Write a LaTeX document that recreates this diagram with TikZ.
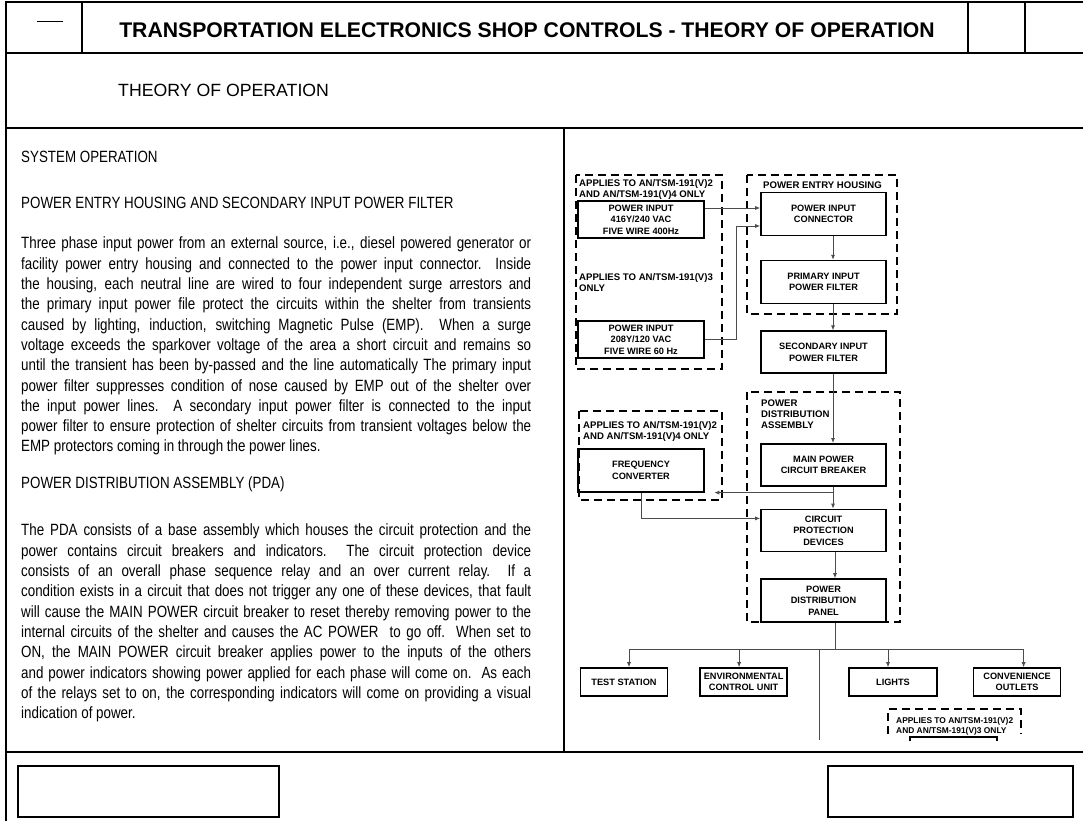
\documentclass[tikz,border=0pt]{standalone}
\usepackage{fontspec}
\setmainfont{Liberation Sans}
\newfontfamily\narrowfont[FakeStretch=0.82]{Liberation Sans}
\usetikzlibrary{arrows.meta,positioning}

\begin{document}
\begin{tikzpicture}[
    x=1pt, y=-1pt,
    >={Latex[length=5pt,width=4pt]},
    every node/.style={font=\fontsize{9.2}{11.5}\selectfont\bfseries},
    box/.style={
        draw,
        line width=1.6pt,
        align=center,
        inner sep=0pt,
        minimum width=125pt,
        minimum height=43pt
    },
    outbox/.style={box, minimum width=87pt, minimum height=28pt},
    group/.style={draw, line width=2.2pt, dash pattern=on 8pt off 5pt},
    grouplabel/.style={anchor=north west, align=left, inner sep=0pt,
        font=\fontsize{9.6}{11}\selectfont\bfseries},
    wire/.style={draw=black!70, line width=0.8pt},
    frame/.style={line width=1.5pt},
    heading/.style={anchor=base west, inner sep=0pt,
        font=\narrowfont\fontsize{16.3}{20.3}\selectfont},
    body/.style={anchor=north west, inner sep=0pt, text width=510pt,
        align=justify, font=\narrowfont\fontsize{16.3}{20.3}\selectfont}
]
  \useasboundingbox (0,0) rectangle (1083,821);

  % page frame
  \draw[frame] (6,821) -- (6,2) -- (1083,2);
  \draw[frame] (6,53) -- (1083,53);
  \draw[frame] (6,128) -- (1083,128);
  \draw[frame] (82,2) -- (82,53);
  \draw[frame] (968,2) -- (968,53);
  \draw[frame] (1025,2) -- (1025,53);
  \draw[line width=1pt] (37,22) -- (63,22);
  \draw[frame] (564,128) -- (564,752);
  \draw[frame] (6,752) -- (1083,752);
  \draw[frame] (18,766) rectangle (279,817);
  \draw[frame] (828,766) rectangle (1073,817);

  \node[font=\fontsize{21.2}{24}\selectfont\bfseries] (title) at (527,30)
    {TRANSPORTATION ELECTRONICS SHOP CONTROLS - THEORY OF OPERATION};
  \node[anchor=west, inner sep=0pt, font=\fontsize{17.7}{20}\selectfont] (sect) at (118,90)
    {THEORY OF OPERATION};

  % text column
  \node[heading] (h1) at (21,162.8) {SYSTEM OPERATION};
  \node[heading] (h2) at (21,208.8) {POWER ENTRY HOUSING AND SECONDARY INPUT POWER FILTER};
  \node[body] (p1) at (21,236.9) {Three phase input power from an external source, i.e., diesel powered generator or\linebreak
    facility power entry housing and connected to the power input connector.\ \ Inside\linebreak
    the housing, each neutral line are wired to four independent surge arrestors and\linebreak
    the primary input power file protect the circuits within the shelter from transients\linebreak
    caused by lighting, induction, switching Magnetic Pulse (EMP).\ \ When a surge\linebreak
    voltage exceeds the sparkover voltage of the area a short circuit and remains so\linebreak
    until the transient has been by-passed and the line automatically The primary input\linebreak
    power filter suppresses condition of nose caused by EMP out of the shelter over\linebreak
    the input power lines.\ \ A secondary input power filter is connected to the input\linebreak
    power filter to ensure protection of shelter circuits from transient voltages below the\linebreak
    EMP protectors coming in through the power lines.};
  \node[heading] (h3) at (21,488.8) {POWER DISTRIBUTION ASSEMBLY (PDA)};
  \node[body] (p2) at (21,523.9) {The PDA consists of a base assembly which houses the circuit protection and the\linebreak
    power contains circuit breakers and indicators.\ \ The circuit protection device\linebreak
    consists of an overall phase sequence relay and an over current relay.\ \ If a\linebreak
    condition exists in a circuit that does not trigger any one of these devices, that fault\linebreak
    will cause the MAIN POWER circuit breaker to reset thereby removing power to the\linebreak
    internal circuits of the shelter and causes the AC POWER\ \ to go off.\ \ When set to\linebreak
    ON, the MAIN POWER circuit breaker applies power to the inputs of the others\linebreak
    and power indicators showing power applied for each phase will come on.\ \ As each\linebreak
    of the relays set to on, the corresponding indicators will come on providing a visual\linebreak
    indication of power.};

  % dashed groups
  \draw[group] (576,175) rectangle (722,369);
  \draw[group] (747,175) rectangle (897,314);
  \draw[group] (747,392) rectangle (900,622);
  \draw[group] (579,411) rectangle (722,500);
  \draw[group] (888,734) |- (1021,709) -- (1021,734);
  \draw[line width=1.6pt] (910,741) |- (997,737) -- (997,741);

  \node[grouplabel] (gA) at (579,179.5) {APPLIES TO AN/TSM-191(V)2\\AND AN/TSM-191(V)4 ONLY};
  \node[grouplabel] (gB) at (579,273) {APPLIES TO AN/TSM-191(V)3\\ONLY};
  \node[grouplabel] (gC) at (763,182) {POWER ENTRY HOUSING};
  \node[grouplabel] (gD) at (761,400) {POWER\\DISTRIBUTION\\ASSEMBLY};
  \node[grouplabel] (gE) at (583,421) {APPLIES TO AN/TSM-191(V)2\\AND AN/TSM-191(V)4 ONLY};
  \node[grouplabel, font=\fontsize{8.4}{10}\selectfont\bfseries] (gF) at (896,717)
    {APPLIES TO AN/TSM-191(V)2\\AND AN/TSM-191(V)3 ONLY};

  % main chain
  \node[box] (PIC) at (823.5,214) {POWER INPUT\\CONNECTOR};
  \node[box, below=23.5pt of PIC] (PF1) {PRIMARY INPUT\\POWER FILTER};
  \node[box, below=26pt of PF1, minimum height=42pt] (PF2) {SECONDARY INPUT\\POWER FILTER};
  \node[box, below=69pt of PF2, minimum height=42pt] (MPCB) {MAIN POWER\\CIRCUIT BREAKER};
  \node[box, below=22pt of MPCB, minimum height=42pt] (CPD) {CIRCUIT\\PROTECTION\\DEVICES};
  \node[box, below=26pt of CPD] (PDP) {POWER\\DISTRIBUTION\\PANEL};

  % side inputs
  \node[box, minimum width=126pt, minimum height=37pt] (PIN1) at (641,219.5)
    {POWER INPUT\\416Y/240 VAC\\FIVE WIRE 400Hz};
  \node[box, minimum width=126pt, minimum height=37pt] (PIN2) at (641,339.5)
    {POWER INPUT\\208Y/120 VAC\\FIVE WIRE 60 Hz};
  \node[box, minimum width=126pt] (FC) at (641,470.5) {FREQUENCY\\CONVERTER};

  % loads
  \node[outbox] (TS) at (624,682) {TEST STATION};
  \node[outbox, right=31pt of TS] (ECU) {ENVIRONMENTAL\\CONTROL UNIT};
  \node[outbox, minimum width=88pt] (LT) at (893,682) {LIGHTS};
  \node[outbox, right=35pt of LT] (CO) {CONVENIENCE\\OUTLETS};

  \draw[wire,->] ([yshift=11.5pt]PIN1.east) -- ([yshift=6pt]PIC.west);
  \draw[wire,->] (PIN2.east) -- ++(32,0) |- ([yshift=-12pt]PIC.west);
  \draw[wire,->] ([xshift=9.5pt]PIC.south) -- ([xshift=9.5pt]PF1.north);
  \draw[wire,->] ([xshift=9.5pt]PF1.south) -- ([xshift=9.5pt]PF2.north);
  \draw[wire,->] ([xshift=9.5pt]PF2.south) -- ([xshift=9.5pt]MPCB.north);
  \draw[wire,->] ([xshift=9.5pt]MPCB.south) -- ([xshift=9.5pt]CPD.north);
  \draw[wire,->] ([xshift=9.5pt,yshift=-6pt]MPCB.south) -- ([xshift=9.5pt,yshift=-6pt]MPCB.south -| FC.east);
  \draw[wire,->] (FC.south) |- ([yshift=12pt]CPD.west);
  \draw[wire,->] ([xshift=11.5pt]CPD.south) -- ([xshift=11.5pt]PDP.north);

  \coordinate (bus) at ([xshift=11.5pt,yshift=-27pt]PDP.south);
  \coordinate (drop) at (819,740);
  \draw[wire] ([xshift=11.5pt]PDP.south) -- (bus);
  \draw[wire] ([xshift=5pt]bus -| TS.north) -- ([xshift=6.5pt]bus -| CO.north);
  \draw[wire,->] ([xshift=5pt]bus -| TS.north) -- ([xshift=5pt]TS.north);
  \draw[wire,->] ([xshift=-4.5pt]bus -| ECU.north) -- ([xshift=-4.5pt]ECU.north);
  \draw[wire,->] ([xshift=-5pt]bus -| LT.north) -- ([xshift=-5pt]LT.north);
  \draw[wire,->] ([xshift=6.5pt]bus -| CO.north) -- ([xshift=6.5pt]CO.north);
  \draw[wire] (drop |- bus) -- (drop);
\end{tikzpicture}
\end{document}
